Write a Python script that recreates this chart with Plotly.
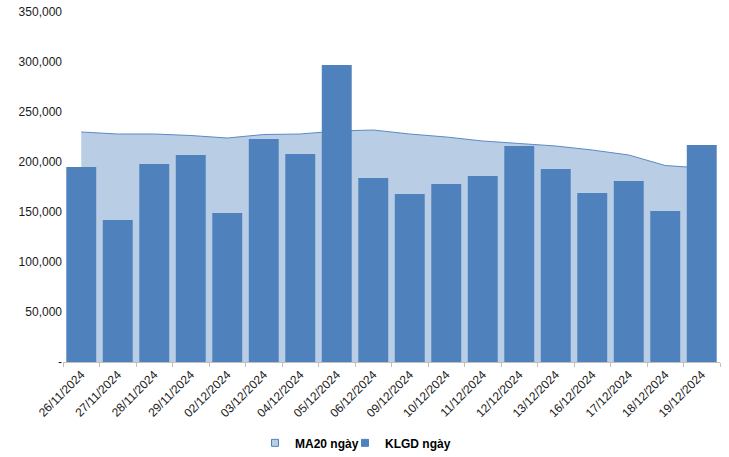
import plotly.graph_objects as go

dates = ["26/11/2024", "27/11/2024", "28/11/2024", "29/11/2024", "02/12/2024",
         "03/12/2024", "04/12/2024", "05/12/2024", "06/12/2024", "09/12/2024",
         "10/12/2024", "11/12/2024", "12/12/2024", "13/12/2024", "16/12/2024",
         "17/12/2024", "18/12/2024", "19/12/2024"]
klgd = [195000, 142000, 198000, 207000, 149000, 223000, 208000, 297000, 184000,
        168000, 178000, 186000, 216000, 193000, 169000, 181000, 151000, 217000]
ma20 = [230000, 228000, 228000, 226500, 224000, 227500, 228000, 231000, 232000,
        228000, 225000, 221000, 218500, 216000, 212000, 207000, 196500, 194000]

ytick_vals = [0, 50000, 100000, 150000, 200000, 250000, 300000, 350000]
ytick_text = ["-", "50,000", "100,000", "150,000", "200,000", "250,000", "300,000", "350,000"]

BAR = "#4F81BD"
AREA = "#B9CDE5"
FONT = "Liberation Sans, Arial, sans-serif"

fig = go.Figure()
fig.add_trace(go.Scatter(x=dates, y=ma20, mode="lines", fill="tozeroy",
                         fillcolor=AREA, line=dict(color="#5B8AC6", width=1),
                         showlegend=False, hoverinfo="skip", yaxis="y"))
fig.add_trace(go.Bar(x=dates, y=klgd, marker=dict(color=BAR, line=dict(width=0)),
                     width=0.82, showlegend=False, yaxis="y2"))
# legend entries
fig.add_trace(go.Scatter(x=[None], y=[None], mode="markers", name="MA20 ngày",
                         marker=dict(symbol="square", size=7, color=AREA,
                                     line=dict(color=BAR, width=1))))
fig.add_trace(go.Scatter(x=[None], y=[None], mode="markers", name="KLGD ngày",
                         marker=dict(symbol="square", size=7, color=BAR,
                                     line=dict(color=BAR, width=1))))
fig.add_trace(go.Scatter(x=[None], y=[None], mode="markers", name=" ",
                         marker=dict(symbol="square", size=7, color="rgba(0,0,0,0)",
                                     line=dict(width=0)),
                         hoverinfo="skip"))

fig.update_layout(
    width=729, height=457,
    margin=dict(l=63, r=9, t=12, b=95, autoexpand=False),
    plot_bgcolor="white", paper_bgcolor="white",
    font=dict(family=FONT, size=12, color="#1a1a1a"),
    xaxis=dict(type="category", categoryorder="array", categoryarray=dates,
               range=[-0.5, len(dates) - 0.5], tickangle=-45, automargin=False,
               showline=True, linecolor="#BFBFBF", linewidth=1,
               ticks="outside", tickson="boundaries", ticklen=4, tickcolor="#BFBFBF",
               showgrid=False, tickfont=dict(size=12, color="#1a1a1a")),
    yaxis=dict(range=[0, 350000], tickvals=ytick_vals, ticktext=ytick_text,
               automargin=False,
               showgrid=False, zeroline=False, showline=False, ticks="",
               tickfont=dict(size=12, color="#1a1a1a")),
    yaxis2=dict(range=[0, 350000], overlaying="y", visible=False),
    legend=dict(orientation="h", x=(255 - 63) / 657, xanchor="left", y=-0.231, yanchor="middle",
                font=dict(size=12, color="#000000", family=FONT, weight="bold"),
                itemwidth=30, entrywidth=45, entrywidthmode="pixels",
                tracegroupgap=0),
    showlegend=True,
)

fig.write_html("out.html")
